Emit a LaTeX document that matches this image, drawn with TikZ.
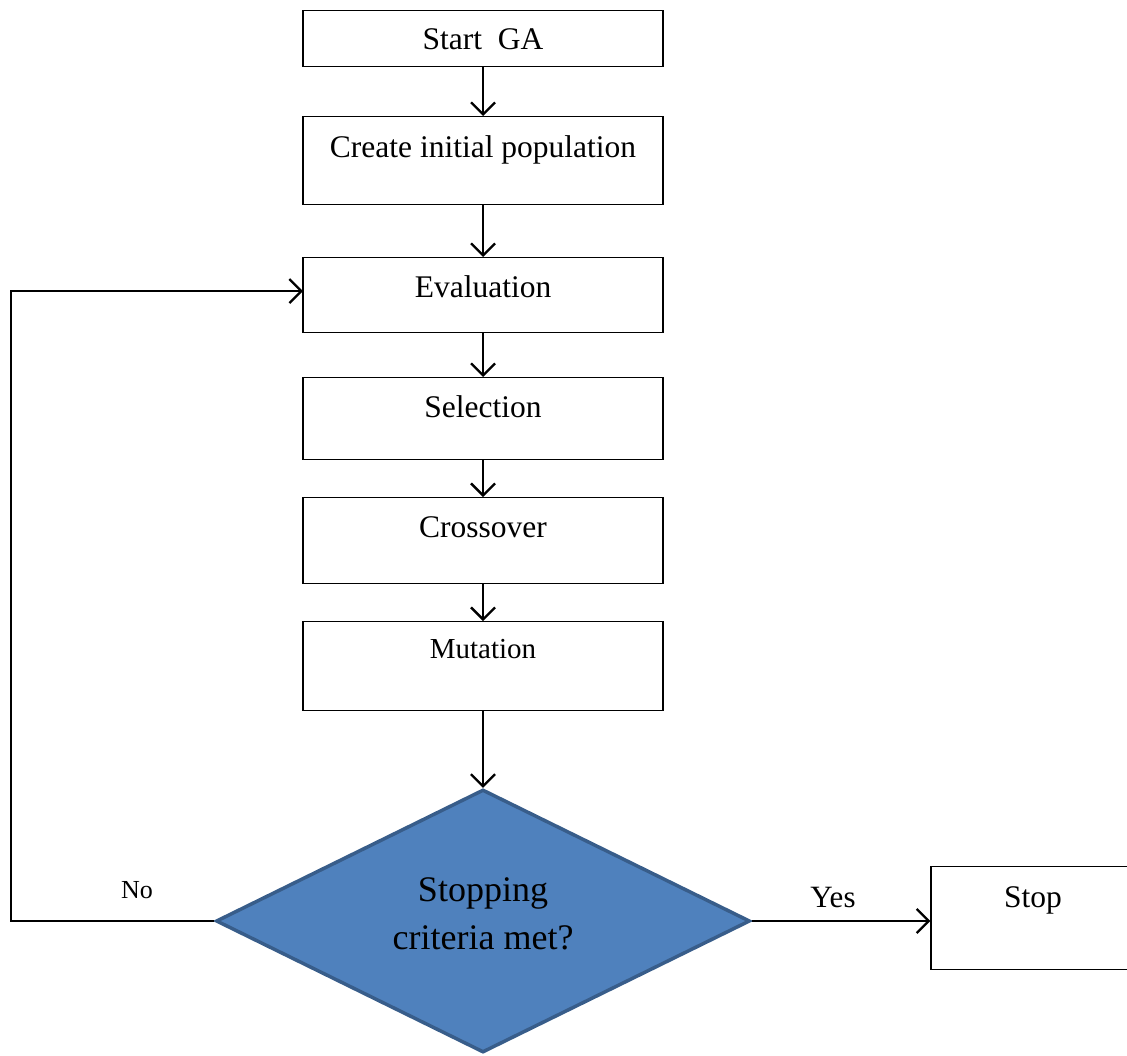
\documentclass[tikz,border=0pt]{standalone}
\usepackage{fontspec}
\setmainfont{Liberation Serif}
\usetikzlibrary{arrows.meta,shapes.geometric}

\newcommand{\bodyfont}{\fontsize{31.5}{38}\selectfont}

\begin{document}
\begin{tikzpicture}[x=1pt,y=-1pt,
  box/.style={draw=black, line width=1.3pt, fill=white, minimum width=360pt,
    inner xsep=0pt, inner ysep=0pt, anchor=north, font=\bodyfont},
  flow/.style={line width=2.3pt, -{Straight Barb[length=12pt,width=24pt,line width=2.3pt]}},
  decision/.style={diamond, draw={rgb,255:red,56;green,93;blue,138}, line width=3.5pt,
    fill={rgb,255:red,79;green,129;blue,189}, minimum width=534pt, minimum height=263pt,
    inner sep=0pt},
  lbl/.style={font=\bodyfont, anchor=base}
]
  \useasboundingbox (0,0) rectangle (1127,1055);

  % process boxes
  \node[box, minimum height=56pt, text height=39pt, text depth=17pt] (start) at (483,10) {Start\ \ GA};
  \node[box, minimum height=88pt, text height=41pt, text depth=47pt] (init) at (483,116) {Create initial population};
  \node[box, minimum height=75pt, text height=40pt, text depth=35pt] (eval) at (483,257) {Evaluation};
  \node[box, minimum height=82pt, text height=40pt, text depth=42pt] (sel) at (483,377) {Selection};
  \node[box, minimum height=86pt, text height=40pt, text depth=46pt] (cross) at (483,497) {Crossover};
  \node[box, minimum height=89pt, text height=37pt, text depth=52pt, font=\fontsize{29}{35}\selectfont] (mut) at (483,621) {Mutation};

  % decision
  \node[decision] (dec) at (483,921) {};
  \node[font=\fontsize{36}{48}\selectfont, align=center, inner sep=0pt] (dectext) at (483,914) {Stopping\\criteria met?};

  % stop box, running past the right edge
  \node[box, minimum width=204pt, minimum height=103pt, text height=41pt, text depth=62pt] (stop) at (1033,866) {Stop};

  % main flow
  \draw[flow] (start) -- (init);
  \draw[flow] (init) -- (eval);
  \draw[flow] (eval) -- (sel);
  \draw[flow] (sel) -- (cross);
  \draw[flow] (cross) -- (mut);
  \draw[flow] (mut) -- (dec.north);
  \draw[flow] (dec.east) -- (stop.west |- dec.east);

  % loop back to evaluation
  \coordinate (evalin) at (303,291);
  \coordinate (loopl) at (11,921);
  \draw[flow] (dec.west) -- (loopl) |- (evalin);

  % branch labels
  \node[lbl, font=\fontsize{26}{30}\selectfont] (no) at (137,898) {No};
  \node[lbl, font=\fontsize{31}{36}\selectfont] (yes) at (833,907) {Yes};
\end{tikzpicture}
\end{document}
